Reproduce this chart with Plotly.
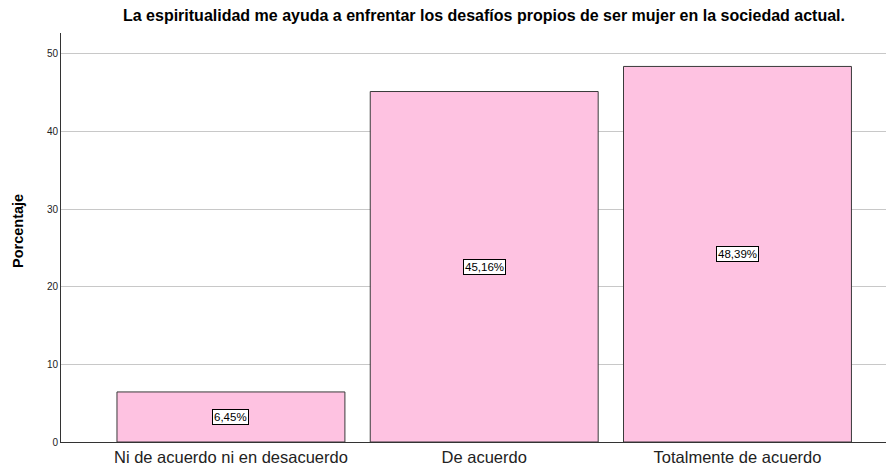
import plotly.graph_objects as go

categories = ["Ni de acuerdo ni en desacuerdo", "De acuerdo", "Totalmente de acuerdo"]
values = [6.45, 45.16, 48.39]
labels = ["6,45%", "45,16%", "48,39%"]
title_text = "La espiritualidad me ayuda a enfrentar los desafíos propios de ser mujer en la sociedad actual."
y_title = "Porcentaje"

FONT = "Arial, Liberation Sans, sans-serif"

fig = go.Figure()
fig.add_trace(go.Bar(
    x=list(range(len(categories))), y=values, width=0.9,
    marker=dict(color="#FEC2E1", line=dict(color="#3a3a3a", width=1)),
    hoverinfo="skip",
))
for i, (v, t) in enumerate(zip(values, labels)):
    fig.add_annotation(x=i, y=v / 2, text=t, showarrow=False,
                       font=dict(family=FONT, size=11.5, color="#000"),
                       bgcolor="white", bordercolor="#000", borderwidth=1, borderpad=1)

fig.add_annotation(xref="paper", yref="paper", x=0, y=0.516, xshift=-43,
                   text="<b>" + y_title + "</b>", textangle=-90, showarrow=False,
                   xanchor="center", yanchor="middle",
                   font=dict(family=FONT, size=14.5, color="#000"))

fig.update_layout(
    width=886, height=463,
    margin=dict(l=53, r=0, t=25, b=29, autoexpand=False),
    paper_bgcolor="white", plot_bgcolor="white",
    showlegend=False,
    font=dict(family=FONT, color="#000"),
    title=dict(text="<b>" + title_text + "</b>", x=476 / 886, xanchor="center",
               y=1 - 7 / 463, yanchor="middle", xref="container", yref="container",
               font=dict(size=16, color="#000")),
    xaxis=dict(range=[-0.671, 2.618], tickmode="array",
               tickvals=list(range(len(categories))), ticktext=categories,
               tickfont=dict(size=16.5, color="#222"), showgrid=False, zeroline=False,
               showline=True, linecolor="#333", linewidth=1, ticks="", automargin=False),
    yaxis=dict(range=[0, 52.7], tickvals=[0, 10, 20, 30, 40, 50],
               tickfont=dict(size=10, color="#222"), showgrid=True, gridcolor="#c8c8c8",
               gridwidth=1, zeroline=False, showline=True, linecolor="#333", linewidth=1,
               ticks="", automargin=False),
)

fig.write_html("out.html")
